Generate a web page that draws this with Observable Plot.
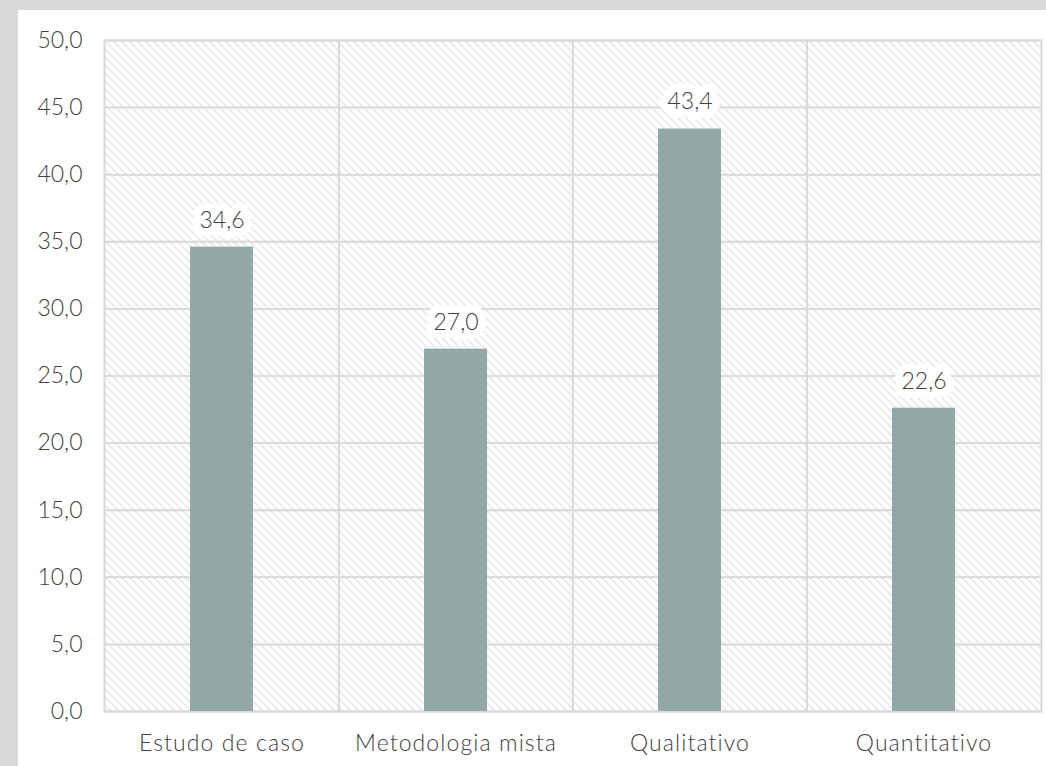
<!DOCTYPE html>
<html>
<head>
<meta charset="utf-8">
<script src="https://cdn.jsdelivr.net/npm/d3@7"></script>
<script src="https://cdn.jsdelivr.net/npm/@observablehq/plot@0.6"></script>
<style>
  html, body { margin: 0; padding: 0; background: #d9d9d9; width: 1046px; height: 766px; overflow: hidden; }
  #panel { position: absolute; left: 18px; top: 10px; width: 1028px; height: 756px; background: #ffffff; }
  #panel svg { font-family: Lato, "Open Sans", sans-serif; font-weight: 300; }
  #panel svg g[aria-label="x-axis tick label"] text { letter-spacing: 1.1px; }
</style>
</head>
<body>
<div id="panel"></div>
<script>
const categories = ["Estudo de caso", "Metodologia mista", "Qualitativo", "Quantitativo"];
const values = [34.6, 27.0, 43.4, 22.6];
const yTicks = [0, 5, 10, 15, 20, 25, 30, 35, 40, 45, 50];

const data = categories.map((c, i) => ({category: c, value: values[i]}));
const fmt = v => v.toFixed(1).replace(".", ",");

const W = 1028, H = 756;
const mL = 86, mR = 5, mT = 30, mB = 55;
const step = (W - mL - mR) / categories.length;

const chart = Plot.plot({
  width: W,
  height: H,
  marginLeft: mL,
  marginRight: mR,
  marginTop: mT,
  marginBottom: mB,
  style: {fontSize: "23px", color: "#404040", background: "transparent"},
  x: {domain: categories, paddingInner: 0.73, paddingOuter: 0.365, label: null, tickSize: 0, tickPadding: 23},
  y: {domain: [0, 50], ticks: yTicks, tickFormat: fmt, label: null, tickSize: 0, tickPadding: 22},
  marks: [
    Plot.frame({fill: "url(#hatch)", stroke: "none"}),
    Plot.ruleY(yTicks, {stroke: "#d9d9d9", strokeWidth: 2}),
    Plot.ruleX(categories.slice(1), {dx: -step / 2, stroke: "#d9d9d9", strokeWidth: 2}),
    Plot.frame({stroke: "#d9d9d9", strokeWidth: 2}),
    Plot.barY(data, {x: "category", y: "value", fill: "#93a8a6"}),
    Plot.text(data, {x: "category", y: "value", text: d => fmt(d.value), dy: -27, fill: "#404040",
      stroke: "white", strokeWidth: 16, strokeLinejoin: "round", fontSize: 23})
  ]
});

// add hatch pattern definition
const ns = "http://www.w3.org/2000/svg";
const defs = document.createElementNS(ns, "defs");
defs.innerHTML = `<pattern id="hatch" patternUnits="userSpaceOnUse" width="8" height="8">
  <rect width="8" height="8" fill="#ffffff"/>
  <path d="M-2,-2 L10,10 M-2,6 L2,10 M6,-2 L10,2" stroke="#dddddd" stroke-width="1.2"/>
</pattern>`;
chart.insertBefore(defs, chart.firstChild);
document.getElementById("panel").appendChild(chart);
</script>
</body>
</html>
